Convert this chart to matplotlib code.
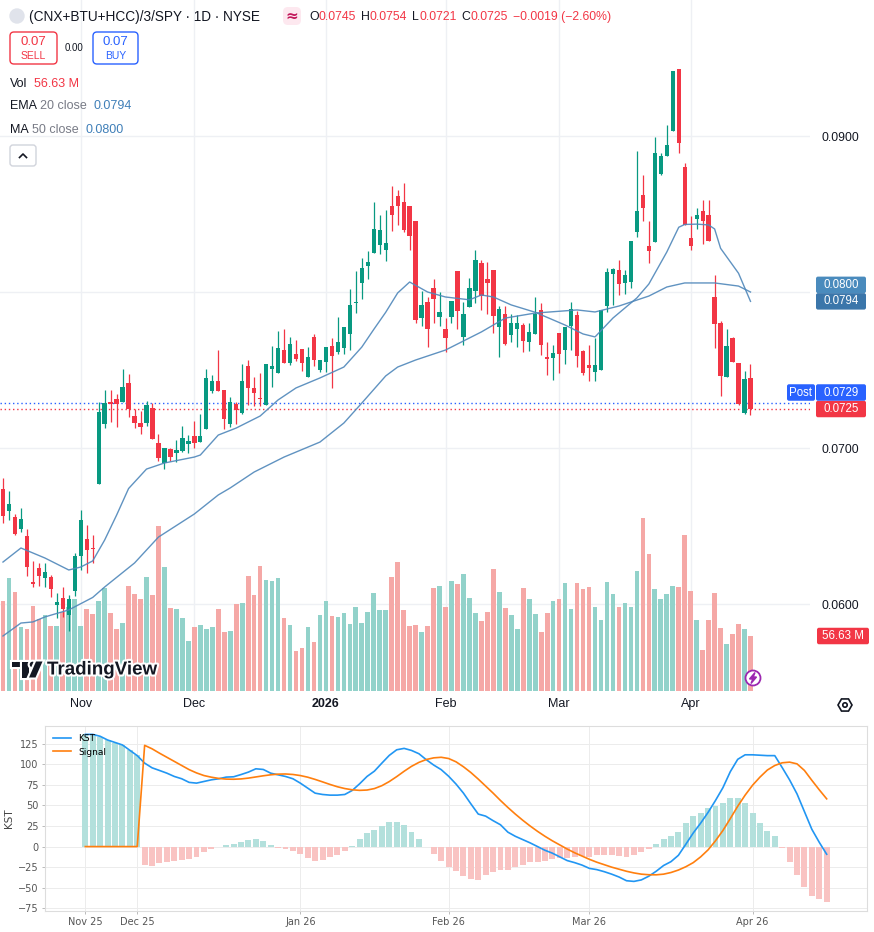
import matplotlib
matplotlib.use("Agg")
import matplotlib.pyplot as plt
import matplotlib.patheffects as pe
from matplotlib.patches import Rectangle, FancyBboxPatch, Circle, Polygon, RegularPolygon
from matplotlib.ticker import MultipleLocator
import numpy as np

# daily candles, (CNX+BTU+HCC)/3/SPY, Oct 15 2025 .. Apr 15 2026
opens = [0.06737, 0.06596, 0.06560, 0.06481, 0.06436, 0.06139, 0.06231, 0.06167, 0.06173, 0.05996,
         0.06040, 0.05929, 0.06085, 0.06308, 0.06415, 0.06359, 0.06769, 0.07154, 0.07295, 0.07314,
         0.07295, 0.07417, 0.07205, 0.07158, 0.07160, 0.07256, 0.07032, 0.06902, 0.06996, 0.06970,
         0.06981, 0.07028, 0.07077, 0.07040, 0.07124, 0.07367, 0.07429, 0.07372, 0.07154, 0.07282,
         0.07226, 0.07526, 0.07383, 0.07316, 0.07274, 0.07508, 0.07483, 0.07628, 0.07547, 0.07603,
         0.07635, 0.07457, 0.07712, 0.07500, 0.07551, 0.07654, 0.07615, 0.07641, 0.07733, 0.07931,
         0.08060, 0.08167, 0.08252, 0.08303, 0.08271, 0.08551, 0.08615, 0.08577, 0.08551, 0.08455,
         0.07835, 0.07936, 0.08026, 0.07842, 0.07763, 0.07842, 0.08135, 0.07713, 0.07906, 0.08008,
         0.08186, 0.08083, 0.08141, 0.07778, 0.07859, 0.07726, 0.07765, 0.07788, 0.07681, 0.07733,
         0.07885, 0.07583, 0.07579, 0.07737, 0.07630, 0.07782, 0.07854, 0.07622, 0.07531, 0.07489,
         0.07502, 0.07910, 0.08117, 0.08138, 0.08060, 0.08065, 0.08386, 0.08622, 0.08295, 0.08321,
         0.08756, 0.08874, 0.09035, 0.09430, 0.08802, 0.08346, 0.08471, 0.08519, 0.08494, 0.07968,
         0.07801, 0.07458, 0.07705, 0.07545, 0.07224, 0.07450]
highs = [0.06810, 0.06724, 0.06575, 0.06617, 0.06481, 0.06274, 0.06265, 0.06265, 0.06186, 0.06069,
         0.06111, 0.06056, 0.06325, 0.06603, 0.06506, 0.06442, 0.07295, 0.07372, 0.07372, 0.07344,
         0.07504, 0.07474, 0.07248, 0.07239, 0.07301, 0.07290, 0.07088, 0.07000, 0.07000, 0.07051,
         0.07141, 0.07083, 0.07175, 0.07218, 0.07506, 0.07468, 0.07628, 0.07372, 0.07325, 0.07295,
         0.07538, 0.07564, 0.07455, 0.07481, 0.07538, 0.07654, 0.07748, 0.07763, 0.07713, 0.07692,
         0.07635, 0.07647, 0.07731, 0.07564, 0.07647, 0.07705, 0.07840, 0.07776, 0.08019, 0.08135,
         0.08218, 0.08263, 0.08577, 0.08494, 0.08526, 0.08679, 0.08654, 0.08699, 0.08551, 0.08455,
         0.08006, 0.07968, 0.08083, 0.08000, 0.07833, 0.07942, 0.08135, 0.07936, 0.08090, 0.08269,
         0.08205, 0.08192, 0.08141, 0.07910, 0.07910, 0.07859, 0.07853, 0.07801, 0.07801, 0.07968,
         0.07929, 0.07679, 0.07660, 0.07737, 0.07776, 0.07936, 0.07879, 0.07631, 0.07660, 0.07705,
         0.07885, 0.08154, 0.08156, 0.08205, 0.08143, 0.08327, 0.08904, 0.08750, 0.08453, 0.08996,
         0.08888, 0.09071, 0.09417, 0.09430, 0.08827, 0.08487, 0.08541, 0.08590, 0.08590, 0.08109,
         0.07814, 0.07763, 0.07710, 0.07545, 0.07494, 0.07540]
lows = [0.06517, 0.06538, 0.06442, 0.06460, 0.06179, 0.06111, 0.06115, 0.06107, 0.06047, 0.05912,
        0.05919, 0.05829, 0.06051, 0.06218, 0.06201, 0.06265, 0.06769, 0.07128, 0.07167, 0.07133,
        0.07295, 0.07201, 0.07128, 0.07088, 0.07140, 0.07060, 0.06919, 0.06867, 0.06919, 0.06910,
        0.06974, 0.06970, 0.06998, 0.07040, 0.07124, 0.07354, 0.07367, 0.07124, 0.07133, 0.07154,
        0.07218, 0.07274, 0.07269, 0.07269, 0.07274, 0.07389, 0.07483, 0.07543, 0.07534, 0.07560,
        0.07494, 0.07457, 0.07526, 0.07487, 0.07487, 0.07387, 0.07603, 0.07603, 0.07628, 0.07867,
        0.07957, 0.08085, 0.08252, 0.08244, 0.08201, 0.08391, 0.08429, 0.08385, 0.08269, 0.07803,
        0.07784, 0.07649, 0.07803, 0.07784, 0.07617, 0.07803, 0.07765, 0.07662, 0.07906, 0.07931,
        0.07887, 0.07859, 0.07739, 0.07585, 0.07662, 0.07681, 0.07649, 0.07617, 0.07624, 0.07733,
        0.07598, 0.07470, 0.07438, 0.07483, 0.07540, 0.07631, 0.07517, 0.07466, 0.07427, 0.07432,
        0.07502, 0.07872, 0.07917, 0.07983, 0.07988, 0.08027, 0.08350, 0.08453, 0.08187, 0.08321,
        0.08750, 0.08874, 0.09035, 0.08893, 0.08428, 0.08269, 0.08404, 0.08308, 0.08324, 0.07641,
        0.07333, 0.07458, 0.07554, 0.07277, 0.07218, 0.07210]
closes = [0.06566, 0.06641, 0.06451, 0.06545, 0.06239, 0.06126, 0.06178, 0.06205, 0.06096, 0.06013,
          0.05966, 0.06030, 0.06308, 0.06538, 0.06346, 0.06354, 0.07231, 0.07290, 0.07282, 0.07284,
          0.07391, 0.07250, 0.07160, 0.07135, 0.07276, 0.07060, 0.06936, 0.07000, 0.06942, 0.06987,
          0.07064, 0.07045, 0.07034, 0.07077, 0.07447, 0.07429, 0.07367, 0.07188, 0.07295, 0.07244,
          0.07429, 0.07387, 0.07354, 0.07312, 0.07538, 0.07526, 0.07641, 0.07543, 0.07667, 0.07571,
          0.07543, 0.07583, 0.07564, 0.07564, 0.07647, 0.07592, 0.07679, 0.07776, 0.07917, 0.07934,
          0.08154, 0.08192, 0.08404, 0.08397, 0.08314, 0.08496, 0.08551, 0.08397, 0.08361, 0.07822,
          0.07917, 0.07765, 0.07957, 0.07872, 0.07707, 0.07942, 0.07880, 0.07859, 0.08026, 0.08205,
          0.07976, 0.08060, 0.07848, 0.07891, 0.07669, 0.07801, 0.07801, 0.07688, 0.07744, 0.07859,
          0.07662, 0.07572, 0.07609, 0.07604, 0.07776, 0.07891, 0.07592, 0.07481, 0.07515, 0.07532,
          0.07885, 0.08128, 0.08147, 0.08053, 0.08109, 0.08327, 0.08519, 0.08541, 0.08260, 0.08891,
          0.08872, 0.08942, 0.09417, 0.08952, 0.08428, 0.08298, 0.08494, 0.08458, 0.08324, 0.07792,
          0.07463, 0.07654, 0.07554, 0.07282, 0.07440, 0.07250]
volumes = [92.7, 116.4, 102.0, 66.2, 63.9, 87.9, 74.2, 78.3, 67.3, 67.3,
           81.7, 86.0, 95.1, 67.3, 84.4, 79.3, 92.7, 106.4, 80.3, 63.9,
           70.0, 108.1, 99.9, 95.1, 117.4, 98.9, 169.9, 127.7, 85.8, 84.4,
           75.5, 51.5, 66.0, 68.1, 63.9, 66.0, 84.4, 60.8, 62.0, 89.6,
           90.6, 118.4, 98.9, 128.7, 114.5, 113.3, 116.4, 75.4, 68.1, 41.2,
           44.3, 65.9, 50.5, 78.3, 92.7, 77.2, 76.2, 80.3, 69.0, 86.5,
           70.0, 81.4, 100.9, 83.4, 83.4, 117.4, 132.9, 83.4, 66.9, 68.0,
           60.8, 66.9, 106.1, 108.1, 86.5, 113.3, 110.2, 120.5, 95.8, 80.3,
           72.1, 81.4, 125.6, 102.0, 85.5, 78.3, 63.9, 106.1, 94.7, 79.3,
           60.8, 80.3, 92.7, 94.7, 111.2, 84.3, 111.6, 105.0, 106.7, 86.7,
           73.0, 112.5, 100.4, 86.3, 90.9, 86.7, 123.3, 178.1, 140.7, 105.0,
           94.6, 100.4, 108.3, 107.1, 160.7, 103.4, 73.0, 42.7, 73.2, 100.8,
           65.2, 48.1, 58.5, 68.5, 63.4, 56.63]  # millions

month_idx = [13, 32, 54, 74, 93, 115]
month_lbl = ["Nov", "Dec", "2026", "Feb", "Mar", "Apr"]

# EMA 20 / MA 50 at these candles
ema_idx = [0, 3, 7, 11, 13, 15, 17, 19, 21, 24, 27, 32, 33, 36, 39, 43, 46, 49, 53, 57,
           60, 62, 64, 66, 68, 71, 74, 78, 80, 82, 85, 89, 92, 94, 97, 99, 102, 106, 108, 111,
           113, 114, 116, 118, 119, 120, 123, 125]
ema_vals = [0.06269, 0.06359, 0.06295, 0.06218, 0.06237, 0.06276, 0.06410, 0.06570, 0.06740, 0.06865,
            0.06904, 0.06942, 0.06955, 0.07083, 0.07128, 0.07205, 0.07308, 0.07385, 0.07449, 0.07519,
            0.07647, 0.07760, 0.07870, 0.07994, 0.08064, 0.08000, 0.07968, 0.07950, 0.07981, 0.07968,
            0.07917, 0.07870, 0.07821, 0.07788, 0.07731, 0.07712, 0.07833, 0.07962, 0.08051, 0.08256,
            0.08415, 0.08433, 0.08435, 0.08430, 0.08404, 0.08280, 0.08120, 0.07940]
ma_idx = [0, 3, 5, 7, 11, 15, 17, 22, 26, 32, 36, 38, 42, 47, 53, 57, 60, 64, 66, 69,
          74, 80, 84, 89, 96, 99, 103, 108, 111, 114, 119, 123, 125]
ma_vals = [0.05795, 0.05878, 0.05885, 0.05917, 0.05962, 0.06042, 0.06109, 0.06263, 0.06429, 0.06577,
           0.06699, 0.06744, 0.06846, 0.06942, 0.07038, 0.07160, 0.07288, 0.07462, 0.07519, 0.07564,
           0.07628, 0.07744, 0.07833, 0.07865, 0.07885, 0.07872, 0.07910, 0.07974, 0.08032, 0.08058,
           0.08058, 0.08038, 0.08000]
post_price = 0.0729
price_ticks = [0.06, 0.07, 0.08, 0.09]

# KST panel (Nov 19 2025 .. Apr 15 2026)
kst = [136.3, 136.3, 134.0, 129.5, 126.5, 123.5, 117.0, 110.5,
       101.4, 95.7, 92.5, 89.2, 85.2, 82.4, 78.0, 77.1, 79.1, 81.1, 82.4, 84.4,
       84.8, 87.5, 90.5, 94.5, 93.7, 89.2, 87.2, 85.2, 82.4, 77.1,
       71.0, 64.9, 63.3, 62.5, 62.5, 63.3, 68.2, 76.3, 85.2, 91.7,
       101.4, 110.8, 117.6, 119.3, 116.8, 112.8, 105.5, 99.0, 93.5, 85.5,
       76.0, 65.0, 52.0, 39.5, 37.0, 31.5, 26.5, 17.5, 12.5, 8.5,
       4.5, 0.0, -4.5, -8.0, -12.5, -17.0, -19.5, -22.5, -26.5, -28.0,
       -30.5, -33.5, -37.0, -41.5, -42.3, -40.5, -36.0, -30.0, -23.0, -18.3,
       -10.6, 2.8, 16.5, 28.5, 41.5, 56.0, 71.5, 91.0, 106.0, 111.5,
       111.5, 111.0, 110.5, 110.5, 96.0, 81.0, 64.0, 42.5, 21.0, 5.2,
       -9.3]
signal = [0, 0, 0, 0, 0, 0, 0, 0,
          123.0, 118.8, 113.5, 108.5, 103.5, 98.5, 93.5, 89.5, 86.3, 84.3, 82.8, 82.0,
          81.8, 82.2, 83.2, 84.6, 86.0, 87.2, 88.0, 88.2, 87.6, 86.3,
          84.3, 81.6, 78.6, 75.5, 72.7, 70.5, 69.0, 68.3, 68.7, 70.5,
          74.0, 79.0, 85.0, 91.5, 97.5, 102.3, 105.8, 107.8, 108.5, 107.0,
          103.0, 97.0, 90.0, 82.0, 73.5, 65.0, 56.0, 47.5, 39.5, 32.0,
          25.0, 18.5, 12.5, 7.0, 2.0, -3.0, -7.5, -11.5, -15.5, -19.0,
          -22.0, -25.0, -27.5, -30.0, -32.0, -33.5, -34.2, -34.3, -33.5, -31.5,
          -28.5, -24.5, -19.5, -12.5, -4.0, 7.0, 19.5, 34.0, 49.0, 62.5,
          74.5, 84.4, 93.0, 98.5, 101.8, 102.6, 100.5, 92.5, 80.5, 69.0,
          58.0]
hist = [136.3, 136.3, 133.0, 129.0, 126.0, 123.3, 117.6, 111.2,
        -21.9, -23.1, -20.3, -19.1, -17.8, -15.8, -14.6, -12.2, -6.9, -3.2, -0.5, 2.4,
        3.7, 6.1, 8.1, 9.7, 7.3, 1.6, -1.6, -3.2, -5.7, -8.9,
        -14.2, -17.8, -16.2, -13.0, -10.5, -4.9, 1.2, 9.7, 17.0, 20.7,
        25.6, 29.6, 29.6, 26.0, 17.8, 9.7, -0.5, -8.9, -17.0, -25.2,
        -30.0, -35.7, -39.8, -40.6, -34.1, -31.2, -28.0, -28.0, -25.2, -22.3,
        -19.1, -18.3, -17.8, -14.6, -13.8, -14.2, -12.2, -11.8, -13.0, -10.5,
        -10.5, -10.5, -11.0, -13.0, -9.7, -6.1, -2.4, 3.2, 9.7, 13.4,
        18.3, 28.4, 37.3, 41.4, 47.1, 49.9, 52.7, 59.2, 59.2, 52.7,
        41.0, 29.2, 19.5, 13.4, -1.6, -19.1, -34.1, -49.5, -59.6, -64.1,
        -67.7]
kst_tick_idx = [0, 7, 29, 49, 68, 90]
kst_tick_lbl = ["Nov 25", "Dec 25", "Jan 26", "Feb 26", "Mar 26", "Apr 26"]

W, H = 874, 932
UI = ["Liberation Sans", "DejaVu Sans"]
TXT = "#131722"
GRAY = "#787b86"
UP, DOWN = "#089981", "#f23645"
VUP, VDOWN = "#92d2ca", "#f5a8a6"
BLUE = "#2962ff"
LINE = "#4f87ba"

fig = plt.figure(figsize=(W / 100, H / 100), dpi=100)

# main TradingView pane: 810 x 692 px at the top
rect = [0, 1 - 692 / H, 810 / W, 692 / H]
axg = fig.add_axes(rect, label="grid", zorder=0)
axv = fig.add_axes(rect, label="vol", zorder=1)
ax = fig.add_axes(rect, label="price", zorder=2)

xlim = (-0.5, 134.95)
ylim = (0.054359, 0.098718)
for a in (axg, ax):
    a.set_xlim(*xlim)
    a.set_ylim(*ylim)
axv.set_xlim(*xlim)
axv.set_ylim(-1.03, 711.6)

axg.axis("off")
for p in price_ticks:
    axg.axhline(p, color="#eef0f4", lw=1)
for m in month_idx:
    axg.axvline(m, color="#eef0f4", lw=1)

idx = np.arange(len(opens))
o = np.array(opens)
c = np.array(closes)
up = c >= o

axv.axis("off")
axv.bar(idx, volumes, width=0.78, color=np.where(up, VUP, VDOWN), linewidth=0)

ax.set_facecolor("none")
for s in ax.spines.values():
    s.set_visible(False)
candle_col = np.where(up, UP, DOWN)
ax.vlines(idx, lows, highs, colors=candle_col, lw=0.9, zorder=3)
ax.bar(idx, np.maximum(np.abs(c - o), 0.00007), bottom=np.minimum(o, c), width=0.72,
       color=candle_col, linewidth=0, zorder=4)
ax.plot(ma_idx, ma_vals, color=LINE, lw=1.0, alpha=0.9, zorder=5)
ax.plot(ema_idx, ema_vals, color=LINE, lw=1.0, alpha=0.9, zorder=5)
ax.axhline(post_price, color=BLUE, lw=1, ls=(0, (1, 2)), zorder=2)
ax.axhline(closes[-1], color=DOWN, lw=1, ls=(0, (1, 2)), zorder=2)

ax.set_xticks(month_idx, month_lbl)
for lab in ax.get_xticklabels():
    lab.set_fontfamily(UI)
    if lab.get_text() == "2026":
        lab.set_fontweight("bold")
ax.tick_params(axis="x", length=0, pad=4.5, labelsize=9, labelcolor=TXT)
ax.yaxis.tick_right()
ax.set_yticks(price_ticks, [f"{v:.4f}" for v in price_ticks])
for v, lab in zip(price_ticks, ax.get_yticklabels()):
    lab.set_fontfamily(UI)
    # the 0.0800 level sits under the MA / EMA price tags
    if abs(v - ma_vals[-1]) < 0.0005:
        lab.set_visible(False)
ax.tick_params(axis="y", length=0, pad=8.5, labelsize=8.7, labelcolor=TXT)

# overlay in figure pixels (y down)
ov = fig.add_axes([0, 0, 1, 1], label="overlay", zorder=5)
ov.set_xlim(0, W)
ov.set_ylim(H, 0)
ov.axis("off")
rend = fig.canvas.get_renderer()


def seq_text(x, y, parts, size):
    for s, col, w, gap in parts:
        t = ov.text(x, y, s, color=col, fontsize=size, fontweight=w, family=UI,
                    ha="left", va="center")
        x += t.get_window_extent(renderer=rend).width + gap


def px(a, val):
    return H - a.transData.transform((0, val))[1]


def tag(yc, text, fc, x0=816, x1=866, h=16.5):
    ov.add_patch(FancyBboxPatch((x0, yc - h / 2), x1 - x0, h, boxstyle="round,pad=0,rounding_size=2",
                                fc=fc, ec="none"))
    ov.text((x0 + x1) / 2, yc, text, color="white", fontsize=8.3, family=UI,
            ha="center", va="center")


# header
ov.add_patch(Circle((17, 16), 7, color="#e0e3eb"))
ov.text(29, 17, "(CNX+BTU+HCC)/3/SPY · 1D · NYSE", fontsize=9.8, color=TXT, family=UI,
        ha="left", va="center")
ov.add_patch(FancyBboxPatch((283, 7), 18, 18, boxstyle="round,pad=0,rounding_size=5",
                            fc="#fde8ef", ec="none"))
ov.text(292, 16.5, "≈", fontsize=11, color="#c2185b", ha="center", va="center", fontweight="bold")
seq_text(309, 17, [("O", TXT, "normal", 0), ("0.0745", DOWN, "normal", 5),
                   ("H", TXT, "normal", 0), ("0.0754", DOWN, "normal", 5),
                   ("L", TXT, "normal", 0), ("0.0721", DOWN, "normal", 5),
                   ("C", TXT, "normal", 0), ("0.0725", DOWN, "normal", 5),
                   ("−0.0019 (−2.60%)", DOWN, "normal", 0)], 8.8)

ov.add_patch(FancyBboxPatch((10, 32), 47, 32, boxstyle="round,pad=0,rounding_size=4",
                            fc="white", ec=DOWN, lw=1))
ov.text(33.5, 42, "0.07", color=DOWN, fontsize=9.5, family=UI, ha="center", va="center")
ov.text(33.5, 56, "SELL", color=DOWN, fontsize=7.5, family=UI, ha="center", va="center")
ov.text(74, 48, "0.00", color=TXT, fontsize=7, family=UI, ha="center", va="center")
ov.add_patch(FancyBboxPatch((93, 32), 45, 32, boxstyle="round,pad=0,rounding_size=4",
                            fc="white", ec=BLUE, lw=1))
ov.text(115.5, 42, "0.07", color=BLUE, fontsize=9.5, family=UI, ha="center", va="center")
ov.text(115.5, 56, "BUY", color=BLUE, fontsize=7.5, family=UI, ha="center", va="center")

seq_text(10, 84, [("Vol", TXT, "normal", 7), (f"{volumes[-1]:.2f} M", DOWN, "normal", 0)], 9)
seq_text(10, 106, [("EMA", TXT, "normal", 3), ("20 close", GRAY, "normal", 7),
                   (f"{ema_vals[-1]:.4f}", "#3f7fb8", "normal", 0)], 9)
seq_text(10, 130, [("MA", TXT, "normal", 3), ("50 close", GRAY, "normal", 7),
                   (f"{ma_vals[-1]:.4f}", "#3f7fb8", "normal", 0)], 9)
ov.add_patch(FancyBboxPatch((10, 145), 26, 21, boxstyle="round,pad=0,rounding_size=3",
                            fc="white", ec="#d1d4dc", lw=1))
ov.plot([19.5, 23, 26.5], [157.5, 154, 157.5], color=TXT, lw=1.2)

# price scale tags
y_ema = px(ax, ema_vals[-1])
tag(y_ema, f"{ema_vals[-1]:.4f}", "#3b76aa")
tag(y_ema - 16.5, f"{ma_vals[-1]:.4f}", "#4a8bbd")
y_cl = px(ax, closes[-1])
tag(y_cl, f"{closes[-1]:.4f}", DOWN)
tag(y_cl - 16.5, f"{post_price:.4f}", BLUE)
tag(y_cl - 16.5, "Post", BLUE, x0=787, x1=815)
tag(px(axv, volumes[-1]), f"{volumes[-1]:.2f} M", DOWN, x0=817, x1=869)

# TradingView logo
halo = [pe.withStroke(linewidth=3, foreground="white")]
for patch in [Rectangle((11.5, 661.5), 17, 5.5), Rectangle((22, 661.5), 6.5, 16),
              Circle((32.5, 664.5), 2.8),
              Polygon([(36, 661.5), (42.5, 661.5), (35.5, 677.5), (29, 677.5)])]:
    patch.set_facecolor(TXT)
    patch.set_edgecolor("none")
    patch.set_path_effects(halo)
    ov.add_patch(patch)
ov.text(47, 670, "TradingView", fontsize=13.5, fontweight="bold", color=TXT, family=UI,
        ha="left", va="center", path_effects=[pe.withStroke(linewidth=3, foreground="white")])

# lightning and settings icons
ov.add_patch(Circle((753, 678), 7.5, fc="white", ec="#9c27b0", lw=1.3))
ov.add_patch(Polygon([(755, 672.5), (749.5, 679), (752.8, 679), (751, 683.5), (756.5, 677),
                      (753.2, 677)], color="#9c27b0"))
ov.add_patch(RegularPolygon((845, 705), 6, radius=7, orientation=np.pi / 6, fc="none",
                            ec=TXT, lw=1.2))
ov.add_patch(Circle((845, 705), 2.2, fc="none", ec=TXT, lw=1.2))

# KST panel
axk = fig.add_axes([45 / W, (H - 910.7) / H, 822 / W, 184.7 / H], label="kst", zorder=3)
j = np.arange(len(kst))
hcol = ["#b3e0dc" if v >= 0 else "#f9c3c2" for v in hist]
axk.bar(j, hist, width=0.8, color=hcol, zorder=2)
axk.plot(j, kst, color="#2196f3", lw=1.2, label="KST", zorder=3)
axk.plot(j, signal, color="#ff7f0e", lw=1.2, label="Signal", zorder=3)
axk.yaxis.set_major_locator(MultipleLocator(25))
axk.set_xticks(kst_tick_idx, kst_tick_lbl)
axk.grid(True, color="#ececec", lw=0.7)
axk.set_axisbelow(True)
for s in axk.spines.values():
    s.set_color("#dddddd")
    s.set_linewidth(0.8)
axk.tick_params(labelsize=7, labelcolor="#555555", color="#bbbbbb", length=2.5, width=0.7, pad=2)
axk.set_ylabel("KST", fontsize=7.5, color="#444444", labelpad=3)
axk.legend(loc="upper left", fontsize=6.5, frameon=False)

fig.savefig("out.png", dpi=100)
